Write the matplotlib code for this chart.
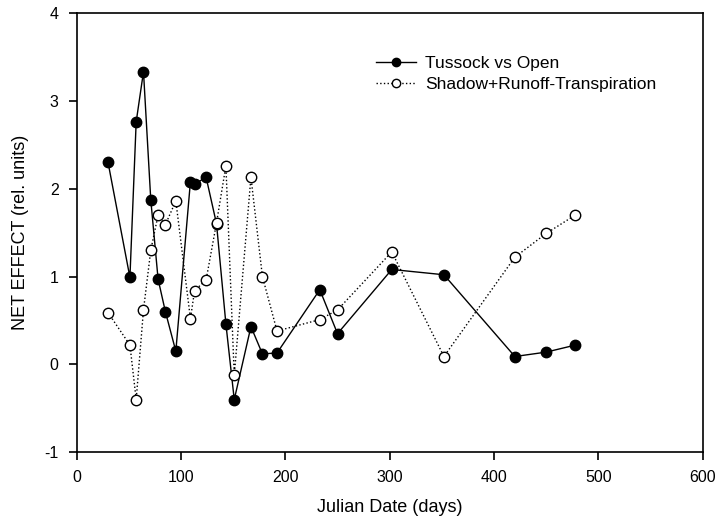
import matplotlib.pyplot as plt

plt.rcParams['font.family'] = ['Liberation Sans', 'DejaVu Sans']
plt.rcParams['axes.unicode_minus'] = False

# sampling days
days = [30, 51, 57, 64, 71, 78, 85, 95, 109, 113, 124, 134,
        143, 151, 167, 178, 192, 233, 250, 302, 352, 420, 450, 478]

# measured difference between tussock and open plots
tussock_vs_open = [2.30, 0.99, 2.76, 3.33, 1.87, 0.97, 0.60, 0.15, 2.08, 2.05, 2.13, 1.60,
                   0.46, -0.40, 0.43, 0.12, 0.13, 0.85, 0.35, 1.08, 1.02, 0.09, 0.14, 0.22]

# modelled sum of the three components
shadow_runoff_transp = [0.59, 0.22, -0.40, 0.62, 1.30, 1.70, 1.59, 1.86, 0.52, 0.84, 0.96, 1.61,
                        2.26, -0.125, 2.13, 1.00, 0.38, 0.51, 0.62, 1.28, 0.09, 1.22, 1.49, 1.70]

fig = plt.figure(figsize=(7.17, 5.27), dpi=100)
ax = fig.add_axes([0.107, 0.1417, 0.873, 0.834])

ax.plot(days, tussock_vs_open, color='black', linestyle='-', linewidth=1,
        marker='o', markersize=7.5, markerfacecolor='black', markeredgecolor='black',
        label='Tussock vs Open', zorder=3)
ax.plot(days, shadow_runoff_transp, color='black', linestyle=':', linewidth=1,
        marker='o', markersize=7.5, markerfacecolor='white', markeredgecolor='black',
        markeredgewidth=1, label='Shadow+Runoff-Transpiration', zorder=4)

ax.set_xlim(0, 600)
ax.set_ylim(-1, 4)
ax.set_xticks([0, 100, 200, 300, 400, 500, 600])
ax.set_yticks([-1, 0, 1, 2, 3, 4])

for s in ax.spines.values():
    s.set_linewidth(1.2)
ax.tick_params(direction='out', length=6, width=1.2, labelsize=11.5, pad=7)

ax.set_xlabel('Julian Date (days)', fontsize=13, labelpad=10)
ax.set_ylabel('NET EFFECT (rel. units)', fontsize=13, labelpad=11)

ax.legend(loc='upper left', bbox_to_anchor=(0.478, 0.902), frameon=False,
          fontsize=12.5, handlelength=2.3, handletextpad=0.55, labelspacing=0.35,
          markerscale=0.8, borderpad=0, borderaxespad=0)

fig.savefig('out.png', dpi=100)
